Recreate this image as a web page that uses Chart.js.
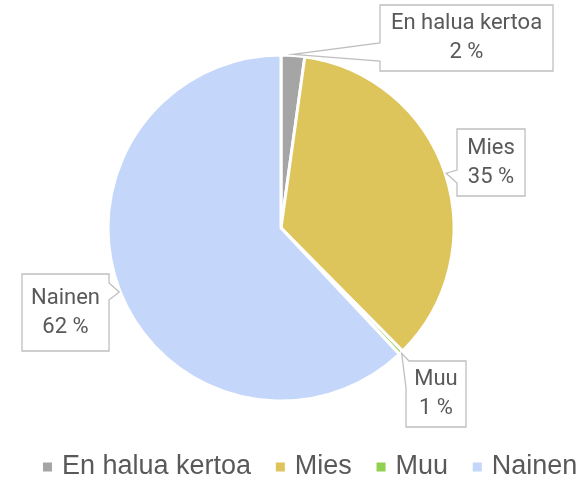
<!DOCTYPE html>
<html><head><meta charset="utf-8">
<script src="https://cdn.jsdelivr.net/npm/chart.js@4/dist/chart.umd.min.js"></script>
<style>html,body{margin:0;padding:0;background:#fff}</style>
</head><body>
<canvas id="c" width="581" height="482"></canvas>
<script>
// ---- data ----
const categories = ['En halua kertoa', 'Mies', 'Muu', 'Nainen'];
const shares = [2.2, 35.4, 0.4, 62.0];
const shareLabels = ['2 %', '35 %', '1 %', '62 %'];

// ---- styles ----
const sliceColors = ['#a5a5a5', '#dec55b', '#92d050', '#c5d6fb'];
const calloutBoxes = [
  { x: 380, y: 5,   w: 173, h: 66, side: 'left',    b1: 38, b2: 56 },
  { x: 457, y: 129, w: 68,  h: 67, side: 'left',    b1: 41, b2: 54 },
  { x: 406, y: 361, w: 60,  h: 66, side: 'topleft', b1: 3,  b2: 27 },
  { x: 22,  y: 274, w: 87,  h: 77, side: 'right',   b1: 9,  b2: 26 }
];
const textColor = '#595959';

const calloutPlugin = {
  id: 'callouts',
  afterDatasetsDraw(chart) {
    const ctx = chart.ctx;
    const arcs = chart.getDatasetMeta(0).data;
    ctx.save();
    arcs.forEach((arc, i) => {
      const p = arc.getProps(['x', 'y', 'startAngle', 'endAngle', 'outerRadius'], true);
      const mid = (p.startAngle + p.endAngle) / 2;
      const tx = p.x + Math.cos(mid) * (p.outerRadius + 1);
      const ty = p.y + Math.sin(mid) * (p.outerRadius + 1);
      const b = calloutBoxes[i];
      const pts = [];
      if (b.side === 'left') {
        pts.push([b.x, b.y], [b.x + b.w, b.y], [b.x + b.w, b.y + b.h], [b.x, b.y + b.h],
                 [b.x, b.y + b.b2], [tx, ty], [b.x, b.y + b.b1]);
      } else if (b.side === 'right') {
        pts.push([b.x, b.y], [b.x + b.w, b.y], [b.x + b.w, b.y + b.b1], [tx, ty],
                 [b.x + b.w, b.y + b.b2], [b.x + b.w, b.y + b.h], [b.x, b.y + b.h]);
      } else {
        pts.push([b.x + b.b1, b.y], [b.x + b.w, b.y], [b.x + b.w, b.y + b.h], [b.x, b.y + b.h],
                 [b.x, b.y + b.b2], [tx, ty]);
      }
      ctx.beginPath();
      pts.forEach((q, k) => k ? ctx.lineTo(q[0], q[1]) : ctx.moveTo(q[0], q[1]));
      ctx.closePath();
      ctx.fillStyle = '#ffffff';
      ctx.fill();
      ctx.lineWidth = 1.3;
      ctx.strokeStyle = '#bfbfbf';
      ctx.stroke();
      ctx.fillStyle = textColor;
      ctx.font = '22px Roboto';
      ctx.textAlign = 'center';
      ctx.textBaseline = 'middle';
      const cx = b.x + b.w / 2, cy = b.y + b.h / 2;
      ctx.fillText(chart.data.labels[i], cx, cy - 14.5);
      ctx.fillText(shareLabels[i], cx, cy + 14.5);
    });
    ctx.restore();
  },
  afterDraw(chart) {
    const ctx = chart.ctx;
    ctx.save();
    ctx.font = '27px "Liberation Sans", Arial, sans-serif';
    ctx.textBaseline = 'middle';
    ctx.textAlign = 'left';
    let x = 43;
    const y = 467;
    chart.data.labels.forEach((lab, i) => {
      ctx.fillStyle = chart.data.datasets[0].backgroundColor[i];
      ctx.fillRect(x, y - 4.5, 9, 9);
      ctx.fillStyle = textColor;
      ctx.fillText(lab, x + 19, y);
      x += 19 + ctx.measureText(lab).width + 24.7;
    });
    ctx.restore();
  }
};

new Chart(document.getElementById('c'), {
  type: 'pie',
  data: {
    labels: categories,
    datasets: [{
      data: shares,
      backgroundColor: sliceColors,
      borderColor: '#ffffff',
      borderWidth: 3,
      hoverOffset: 0,
      radius: 173
    }]
  },
  options: {
    responsive: false,
    animation: false,
    layout: { padding: { left: 0, right: 19, top: 0, bottom: 26 } },
    plugins: {
      legend: { display: false },
      tooltip: { enabled: false }
    }
  },
  plugins: [calloutPlugin]
});
</script>
</body></html>
